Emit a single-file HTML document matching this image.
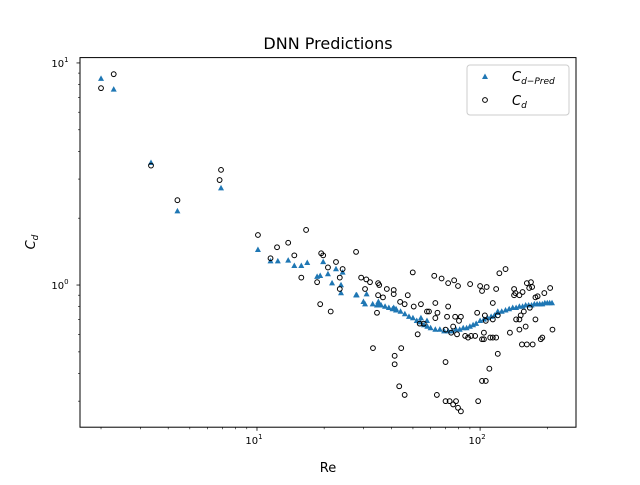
<!DOCTYPE html>
<html><head><meta charset="utf-8"><style>
body{margin:0;background:#fff;font-family:"Liberation Sans","DejaVu Sans",sans-serif}
svg text{font-family:"DejaVu Sans","Liberation Sans",sans-serif}
</style></head><body>
<svg id="chart" width="640" height="480" xmlns="http://www.w3.org/2000/svg">
<rect width="640" height="480" fill="#fff"/>
<text x="328" y="49" text-anchor="middle" font-size="16">DNN Predictions</text>
<g id="marks"></g>
<g id="axes"></g>
<rect x="80" y="57.6" width="496" height="369.6" fill="none" stroke="#000" stroke-width="1"/>
<text x="328" y="472" text-anchor="middle" font-size="13">Re</text>
<text transform="translate(35,242) rotate(-90)" text-anchor="middle" font-size="13" font-style="italic">C<tspan font-size="9" dy="3">d</tspan></text>
<g>
<rect x="467" y="65" width="102" height="50" rx="3" fill="#fff" stroke="#ccc"/>
<g>
<polygon points="485,73.5 488,79 482,79" fill="#1f77b4"/>
<text x="512" y="81" font-size="13" font-style="italic">C<tspan font-size="9" dy="3">d−Pred</tspan></text>
</g>
<g>
<circle cx="485" cy="100" r="2.4" fill="none" stroke="#000" stroke-width="1"/>
<text x="512" y="105" font-size="13" font-style="italic">C<tspan font-size="9" dy="3">d</tspan></text>
</g>
</g>
</svg>
<script>
const cdRe=[2.0,2.28,3.35,4.4,6.9,6.8,10.1,16.6,12.3,13.8,11.5,14.7,15.8,19.4,19.8,20.8,22.6,24.2,23.5,18.6,23.5,19.2,21.4,27.8,29.3,30.9,32.1,30.5,34.9,35.3,34.9,36.7,38.2,34.5,33.1,41,41,43.8,45.9,47.4,49.9,50.4,54.3,41.4,41.4,44.3,43.4,45.9,52.5,53.6,55.9,62.3,67.2,63,57.8,59,64.4,63,71.9,76.5,79.6,71.9,71.1,77.3,82,80.4,75.7,70,74.2,78.8,85.7,88.3,91.1,95,90.2,100,102,107,97,105,106,114,120,102,104,104,111,114,118,114,118,122,130,120,110,102,106,98,70,64,70,73,75.7,78,79.6,82,136,142,144,142,150,155,162,169,166,171,145,150,152,157,167,150,160,154,162,172,187,190,177,177,181,194,206,211];
const cdVal=[7.7,8.9,3.45,2.41,3.3,2.97,1.68,1.77,1.48,1.55,1.32,1.36,1.08,1.39,1.36,1.2,1.27,1.18,1.08,1.03,0.96,0.82,0.76,1.41,1.08,1.06,1.03,0.96,1.02,1.0,0.9,0.88,0.96,0.75,0.52,0.95,0.91,0.84,0.82,0.9,1.14,0.8,0.82,0.48,0.44,0.52,0.35,0.32,0.6,0.67,0.67,1.1,1.07,0.83,0.76,0.76,0.75,0.71,1.02,1.05,0.99,0.8,0.72,0.72,0.72,0.69,0.65,0.63,0.61,0.6,0.59,0.58,0.59,0.59,1.01,0.99,0.94,0.98,0.75,0.73,0.69,0.7,0.73,0.57,0.57,0.61,0.58,0.58,0.58,0.83,0.96,1.13,1.18,0.49,0.42,0.37,0.37,0.3,0.45,0.32,0.3,0.3,0.29,0.3,0.28,0.27,0.61,0.96,0.92,0.9,0.9,0.93,1.02,1.03,0.97,0.98,0.7,0.7,0.73,0.76,0.79,0.63,0.65,0.54,0.54,0.54,0.57,0.58,0.7,0.88,0.89,0.92,0.97,0.63];
const predRe=[2.0,2.28,3.35,4.4,6.9,10.1,11.5,12.4,13.8,14.7,15.8,16.8,19.8,18.6,19.2,20.8,21.7,22.6,24.2,23.8,23.8,27.8,28,31,30,30.5,33,34.5,36,37.5,39,40.5,42,44,46,48,50,52,54,56,58,60,63,66,69,72,75,78,81,84,87,90,93,96,100,104,108,112,116,120,125,130,135,140,145,150,155,160,165,170,175,180,185,190,195,200,205,210,35,35.3,41,42,54.3,57.8,120];
const predVal=[8.5,7.6,3.55,2.15,2.73,1.44,1.28,1.28,1.29,1.22,1.22,1.26,1.27,1.09,1.1,1.12,1.02,1.18,1.14,1.0,0.92,0.9,0.9,0.91,0.84,0.82,0.82,0.81,0.81,0.8,0.79,0.78,0.77,0.76,0.74,0.72,0.71,0.69,0.68,0.66,0.65,0.64,0.63,0.63,0.62,0.62,0.62,0.63,0.63,0.64,0.64,0.65,0.66,0.67,0.69,0.70,0.71,0.72,0.73,0.75,0.76,0.77,0.78,0.79,0.79,0.80,0.80,0.81,0.81,0.81,0.82,0.82,0.82,0.82,0.83,0.83,0.83,0.83,0.84,0.82,0.79,0.78,0.71,0.69,0.76];
const xTickLabels=["10","10"];const xTickExp=["1","2"];const xTickVals=[10,100];
const yTickVals=[1,10];const yTickExp=["0","1"];
const NS="http://www.w3.org/2000/svg";
const L=80,R=576,T=57.6,B=427.2,xmin=Math.log10(1.61),xmax=Math.log10(269),ymin=Math.log10(0.229),ymax=Math.log10(10.57);
function sx(v){return L+(Math.log10(v)-xmin)/(xmax-xmin)*(R-L);}
function sy(v){return B-(Math.log10(v)-ymin)/(ymax-ymin)*(B-T);}
const marks=document.getElementById('marks'),axes=document.getElementById('axes');
function mk(tag,attrs,parent){const e=document.createElementNS(NS,tag);for(const k in attrs)e.setAttribute(k,attrs[k]);parent.appendChild(e);return e;}
predRe.forEach((r,i)=>{const x=sx(r),y=sy(predVal[i]);
const p=mk('polygon',{points:`${x},${y-3.3} ${x+3},${y+2.2} ${x-3},${y+2.2}`,fill:'#1f77b4'},marks);

});
cdRe.forEach((r,i)=>{const c=mk('circle',{cx:sx(r),cy:sy(cdVal[i]),r:2.4,fill:'none',stroke:'#000','stroke-width':1},marks);

});
// minor ticks
for(let d=1;d<=100;d*=10)for(let m=2;m<=9;m++){const v=m*d;const x=sx(v);if(x<L||x>R)continue;mk('line',{x1:x,x2:x,y1:B,y2:B+2,stroke:'#000','stroke-width':0.6},axes);}
for(let d=0.1;d<=10;d*=10)for(let m=2;m<=9;m++){const v=m*d;const y=sy(v);if(y<T||y>B)continue;mk('line',{x1:L,x2:L-2,y1:y,y2:y,stroke:'#000','stroke-width':0.6},axes);}
xTickVals.forEach((v,i)=>{const x=sx(v);mk('line',{x1:x,x2:x,y1:B,y2:B+3.5,stroke:'#000','stroke-width':0.8},axes);
const t=mk('text',{x:x-3,y:B+17,'text-anchor':'middle','font-size':10},axes);t.textContent=xTickLabels[i];
const s=mk('tspan',{'font-size':7,dy:-5},t);s.textContent=xTickExp[i];

});
yTickVals.forEach((v,i)=>{const y=sy(v);mk('line',{x1:L,x2:L-3.5,y1:y,y2:y,stroke:'#000','stroke-width':0.8},axes);
const t=mk('text',{x:L-20,y:y+4,'text-anchor':'middle','font-size':10},axes);t.textContent='10';
const s=mk('tspan',{'font-size':7,dy:-5},t);s.textContent=yTickExp[i];

});
</script>
</body></html>
